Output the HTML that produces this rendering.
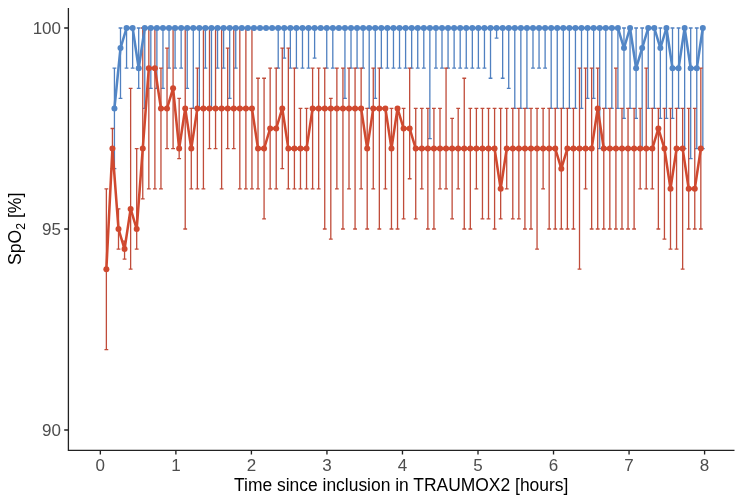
<!DOCTYPE html>
<html lang="en">
<head>
<meta charset="utf-8">
<title>SpO2 over time since inclusion in TRAUMOX2</title>
<style>
html,body{margin:0;padding:0;background:#ffffff;}
body{width:744px;height:503px;overflow:hidden;position:relative;font-family:"Liberation Sans",sans-serif;}
</style>
</head>
<body>
<svg width="744" height="503" viewBox="0 0 744 503" style="position:absolute;left:0;top:0;will-change:transform">
<rect width="744" height="503" fill="#ffffff"/>
<path d="M114.43 68.20V168.70M112.53 68.20h3.80M112.53 168.70h3.80M120.50 28.00V98.35M118.60 28.00h3.80M118.60 98.35h3.80M126.56 28.00V68.20M124.66 28.00h3.80M124.66 68.20h3.80M132.63 28.00V68.20M130.73 28.00h3.80M130.73 68.20h3.80M138.70 28.00V88.30M136.80 28.00h3.80M136.80 88.30h3.80M144.76 28.00V108.40M142.86 28.00h3.80M142.86 108.40h3.80M150.83 28.00V88.30M148.93 28.00h3.80M148.93 88.30h3.80M156.89 28.00V88.30M154.99 28.00h3.80M154.99 88.30h3.80M162.96 28.00V88.30M161.06 28.00h3.80M161.06 88.30h3.80M169.03 28.00V68.20M167.13 28.00h3.80M167.13 68.20h3.80M175.09 28.00V68.20M173.19 28.00h3.80M173.19 68.20h3.80M181.16 28.00V68.20M179.26 28.00h3.80M179.26 68.20h3.80M187.22 28.00V88.30M185.32 28.00h3.80M185.32 88.30h3.80M193.29 28.00V108.40M191.39 28.00h3.80M191.39 108.40h3.80M199.36 28.00V108.40M197.46 28.00h3.80M197.46 108.40h3.80M205.42 28.00V68.20M203.52 28.00h3.80M203.52 68.20h3.80M211.49 28.00V108.40M209.59 28.00h3.80M209.59 108.40h3.80M217.55 28.00V68.20M215.65 28.00h3.80M215.65 68.20h3.80M223.62 28.00V68.20M221.72 28.00h3.80M221.72 68.20h3.80M229.69 28.00V98.35M227.79 28.00h3.80M227.79 98.35h3.80M235.75 28.00V68.20M233.85 28.00h3.80M233.85 68.20h3.80M278.21 28.00V68.20M276.31 28.00h3.80M276.31 68.20h3.80M284.28 28.00V58.15M282.38 28.00h3.80M282.38 58.15h3.80M290.35 28.00V68.20M288.45 28.00h3.80M288.45 68.20h3.80M296.41 28.00V68.20M294.51 28.00h3.80M294.51 68.20h3.80M302.48 28.00V68.20M300.58 28.00h3.80M300.58 68.20h3.80M308.54 28.00V68.20M306.64 28.00h3.80M306.64 68.20h3.80M314.61 28.00V58.15M312.71 28.00h3.80M312.71 58.15h3.80M326.74 28.00V68.20M324.84 28.00h3.80M324.84 68.20h3.80M332.81 28.00V68.20M330.91 28.00h3.80M330.91 68.20h3.80M344.94 28.00V98.35M343.04 28.00h3.80M343.04 98.35h3.80M351.01 28.00V68.20M349.11 28.00h3.80M349.11 68.20h3.80M357.07 28.00V68.20M355.17 28.00h3.80M355.17 68.20h3.80M363.14 28.00V68.20M361.24 28.00h3.80M361.24 68.20h3.80M369.20 28.00V108.40M367.30 28.00h3.80M367.30 108.40h3.80M375.27 28.00V98.35M373.37 28.00h3.80M373.37 98.35h3.80M381.34 28.00V68.20M379.44 28.00h3.80M379.44 68.20h3.80M387.40 28.00V68.20M385.50 28.00h3.80M385.50 68.20h3.80M393.47 28.00V68.20M391.57 28.00h3.80M391.57 68.20h3.80M399.53 28.00V68.20M397.63 28.00h3.80M397.63 68.20h3.80M405.60 28.00V68.20M403.70 28.00h3.80M403.70 68.20h3.80M411.67 28.00V68.20M409.77 28.00h3.80M409.77 68.20h3.80M417.73 28.00V68.20M415.83 28.00h3.80M415.83 68.20h3.80M423.80 28.00V68.20M421.90 28.00h3.80M421.90 68.20h3.80M429.86 28.00V138.55M427.96 28.00h3.80M427.96 138.55h3.80M435.93 28.00V68.20M434.03 28.00h3.80M434.03 68.20h3.80M442.00 28.00V68.20M440.10 28.00h3.80M440.10 68.20h3.80M448.06 28.00V68.20M446.16 28.00h3.80M446.16 68.20h3.80M454.13 28.00V68.20M452.23 28.00h3.80M452.23 68.20h3.80M460.19 28.00V68.20M458.29 28.00h3.80M458.29 68.20h3.80M466.26 28.00V68.20M464.36 28.00h3.80M464.36 68.20h3.80M472.33 28.00V68.20M470.43 28.00h3.80M470.43 68.20h3.80M478.39 28.00V68.20M476.49 28.00h3.80M476.49 68.20h3.80M484.46 28.00V68.20M482.56 28.00h3.80M482.56 68.20h3.80M490.52 28.00V78.25M488.62 28.00h3.80M488.62 78.25h3.80M496.59 28.00V38.05M494.69 28.00h3.80M494.69 38.05h3.80M502.66 28.00V78.25M500.76 28.00h3.80M500.76 78.25h3.80M508.72 28.00V88.30M506.82 28.00h3.80M506.82 88.30h3.80M514.79 28.00V108.40M512.89 28.00h3.80M512.89 108.40h3.80M520.85 28.00V108.40M518.95 28.00h3.80M518.95 108.40h3.80M526.92 28.00V108.40M525.02 28.00h3.80M525.02 108.40h3.80M532.99 28.00V68.20M531.09 28.00h3.80M531.09 68.20h3.80M539.05 28.00V68.20M537.15 28.00h3.80M537.15 68.20h3.80M545.12 28.00V68.20M543.22 28.00h3.80M543.22 68.20h3.80M551.18 28.00V108.40M549.28 28.00h3.80M549.28 108.40h3.80M557.25 28.00V108.40M555.35 28.00h3.80M555.35 108.40h3.80M563.32 28.00V108.40M561.42 28.00h3.80M561.42 108.40h3.80M569.38 28.00V108.40M567.48 28.00h3.80M567.48 108.40h3.80M575.45 28.00V108.40M573.55 28.00h3.80M573.55 108.40h3.80M581.51 28.00V108.40M579.61 28.00h3.80M579.61 108.40h3.80M587.58 28.00V98.35M585.68 28.00h3.80M585.68 98.35h3.80M593.65 28.00V98.35M591.75 28.00h3.80M591.75 98.35h3.80M599.71 28.00V148.60M597.81 28.00h3.80M597.81 148.60h3.80M605.78 28.00V108.40M603.88 28.00h3.80M603.88 108.40h3.80M611.84 28.00V108.40M609.94 28.00h3.80M609.94 108.40h3.80M617.91 28.00V108.40M616.01 28.00h3.80M616.01 108.40h3.80M623.98 28.00V118.45M622.08 28.00h3.80M622.08 118.45h3.80M630.04 28.00V108.40M628.14 28.00h3.80M628.14 108.40h3.80M636.11 28.00V118.45M634.21 28.00h3.80M634.21 118.45h3.80M642.17 28.00V148.60M640.27 28.00h3.80M640.27 148.60h3.80M648.24 28.00V108.40M646.34 28.00h3.80M646.34 108.40h3.80M654.31 28.00V108.40M652.41 28.00h3.80M652.41 108.40h3.80M660.37 28.00V118.45M658.47 28.00h3.80M658.47 118.45h3.80M666.44 28.00V118.45M664.54 28.00h3.80M664.54 118.45h3.80M672.50 28.00V118.45M670.60 28.00h3.80M670.60 118.45h3.80M678.57 28.00V108.40M676.67 28.00h3.80M676.67 108.40h3.80M684.64 28.00V148.60M682.74 28.00h3.80M682.74 148.60h3.80M690.70 28.00V158.65M688.80 28.00h3.80M688.80 158.65h3.80M696.77 28.00V148.60M694.87 28.00h3.80M694.87 148.60h3.80M702.83 28.00V148.60M700.93 28.00h3.80M700.93 148.60h3.80" fill="none" stroke="#5080c0" stroke-width="1.3"/>
<path d="M106.37 188.80V349.60M104.47 188.80h3.80M104.47 349.60h3.80M112.43 128.50V168.70M110.53 128.50h3.80M110.53 168.70h3.80M118.50 208.90V249.10M116.60 208.90h3.80M116.60 249.10h3.80M124.56 241.06V259.15M122.66 241.06h3.80M122.66 259.15h3.80M130.63 88.30V269.20M128.73 88.30h3.80M128.73 269.20h3.80M136.70 148.60V249.10M134.80 148.60h3.80M134.80 249.10h3.80M142.76 28.00V198.85M140.86 28.00h3.80M140.86 198.85h3.80M148.83 28.00V188.80M146.93 28.00h3.80M146.93 188.80h3.80M154.89 28.00V188.80M152.99 28.00h3.80M152.99 188.80h3.80M160.96 68.20V188.80M159.06 68.20h3.80M159.06 188.80h3.80M167.03 48.10V148.60M165.13 48.10h3.80M165.13 148.60h3.80M173.09 28.00V148.60M171.19 28.00h3.80M171.19 148.60h3.80M179.16 98.35V158.65M177.26 98.35h3.80M177.26 158.65h3.80M185.22 28.00V229.00M183.32 28.00h3.80M183.32 229.00h3.80M191.29 108.40V188.80M189.39 108.40h3.80M189.39 188.80h3.80M197.36 68.20V188.80M195.46 68.20h3.80M195.46 188.80h3.80M203.42 28.00V188.80M201.52 28.00h3.80M201.52 188.80h3.80M209.49 28.00V148.60M207.59 28.00h3.80M207.59 148.60h3.80M215.55 28.00V148.60M213.65 28.00h3.80M213.65 148.60h3.80M221.62 28.00V188.80M219.72 28.00h3.80M219.72 188.80h3.80M227.69 48.10V148.60M225.79 48.10h3.80M225.79 148.60h3.80M233.75 28.00V148.60M231.85 28.00h3.80M231.85 148.60h3.80M239.82 28.00V188.80M237.92 28.00h3.80M237.92 188.80h3.80M245.88 28.00V188.80M243.98 28.00h3.80M243.98 188.80h3.80M251.95 28.00V188.80M250.05 28.00h3.80M250.05 188.80h3.80M258.02 78.25V188.80M256.12 78.25h3.80M256.12 188.80h3.80M264.08 78.25V218.95M262.18 78.25h3.80M262.18 218.95h3.80M270.15 68.20V188.80M268.25 68.20h3.80M268.25 188.80h3.80M276.21 68.20V188.80M274.31 68.20h3.80M274.31 188.80h3.80M282.28 48.10V168.70M280.38 48.10h3.80M280.38 168.70h3.80M288.35 48.10V188.80M286.45 48.10h3.80M286.45 188.80h3.80M294.41 68.20V188.80M292.51 68.20h3.80M292.51 188.80h3.80M300.48 108.40V188.80M298.58 108.40h3.80M298.58 188.80h3.80M306.54 108.40V188.80M304.64 108.40h3.80M304.64 188.80h3.80M312.61 68.20V188.80M310.71 68.20h3.80M310.71 188.80h3.80M318.68 68.20V188.80M316.78 68.20h3.80M316.78 188.80h3.80M324.74 68.20V229.00M322.84 68.20h3.80M322.84 229.00h3.80M330.81 98.35V239.05M328.91 98.35h3.80M328.91 239.05h3.80M336.87 68.20V188.80M334.97 68.20h3.80M334.97 188.80h3.80M342.94 68.20V229.00M341.04 68.20h3.80M341.04 229.00h3.80M349.01 68.20V188.80M347.11 68.20h3.80M347.11 188.80h3.80M355.07 68.20V229.00M353.17 68.20h3.80M353.17 229.00h3.80M361.14 68.20V188.80M359.24 68.20h3.80M359.24 188.80h3.80M367.20 108.40V229.00M365.30 108.40h3.80M365.30 229.00h3.80M373.27 68.20V188.80M371.37 68.20h3.80M371.37 188.80h3.80M379.34 68.20V229.00M377.44 68.20h3.80M377.44 229.00h3.80M385.40 108.40V188.80M383.50 108.40h3.80M383.50 188.80h3.80M391.47 108.40V229.00M389.57 108.40h3.80M389.57 229.00h3.80M397.53 108.40V229.00M395.63 108.40h3.80M395.63 229.00h3.80M403.60 108.40V218.95M401.70 108.40h3.80M401.70 218.95h3.80M409.67 68.20V178.75M407.77 68.20h3.80M407.77 178.75h3.80M415.73 108.40V218.95M413.83 108.40h3.80M413.83 218.95h3.80M421.80 108.40V188.80M419.90 108.40h3.80M419.90 188.80h3.80M427.86 108.40V229.00M425.96 108.40h3.80M425.96 229.00h3.80M433.93 108.40V229.00M432.03 108.40h3.80M432.03 229.00h3.80M440.00 108.40V188.80M438.10 108.40h3.80M438.10 188.80h3.80M446.06 68.20V188.80M444.16 68.20h3.80M444.16 188.80h3.80M452.13 118.45V218.95M450.23 118.45h3.80M450.23 218.95h3.80M458.19 108.40V188.80M456.29 108.40h3.80M456.29 188.80h3.80M464.26 78.25V229.00M462.36 78.25h3.80M462.36 229.00h3.80M470.33 108.40V229.00M468.43 108.40h3.80M468.43 229.00h3.80M476.39 108.40V188.80M474.49 108.40h3.80M474.49 188.80h3.80M482.46 108.40V218.95M480.56 108.40h3.80M480.56 218.95h3.80M488.52 108.40V218.95M486.62 108.40h3.80M486.62 218.95h3.80M494.59 108.40V229.00M492.69 108.40h3.80M492.69 229.00h3.80M500.66 108.40V218.95M498.76 108.40h3.80M498.76 218.95h3.80M506.72 108.40V188.80M504.82 108.40h3.80M504.82 188.80h3.80M512.79 108.40V218.95M510.89 108.40h3.80M510.89 218.95h3.80M518.85 108.40V218.95M516.95 108.40h3.80M516.95 218.95h3.80M524.92 108.40V229.00M523.02 108.40h3.80M523.02 229.00h3.80M530.99 108.40V229.00M529.09 108.40h3.80M529.09 229.00h3.80M537.05 108.40V249.10M535.15 108.40h3.80M535.15 249.10h3.80M543.12 108.40V188.80M541.22 108.40h3.80M541.22 188.80h3.80M549.18 108.40V229.00M547.28 108.40h3.80M547.28 229.00h3.80M555.25 108.40V229.00M553.35 108.40h3.80M553.35 229.00h3.80M561.32 108.40V229.00M559.42 108.40h3.80M559.42 229.00h3.80M567.38 108.40V229.00M565.48 108.40h3.80M565.48 229.00h3.80M573.45 108.40V229.00M571.55 108.40h3.80M571.55 229.00h3.80M579.51 68.20V269.20M577.61 68.20h3.80M577.61 269.20h3.80M585.58 68.20V188.80M583.68 68.20h3.80M583.68 188.80h3.80M591.65 68.20V229.00M589.75 68.20h3.80M589.75 229.00h3.80M597.71 68.20V229.00M595.81 68.20h3.80M595.81 229.00h3.80M603.78 108.40V229.00M601.88 108.40h3.80M601.88 229.00h3.80M609.84 108.40V229.00M607.94 108.40h3.80M607.94 229.00h3.80M615.91 68.20V229.00M614.01 68.20h3.80M614.01 229.00h3.80M621.98 108.40V229.00M620.08 108.40h3.80M620.08 229.00h3.80M628.04 108.40V229.00M626.14 108.40h3.80M626.14 229.00h3.80M634.11 108.40V229.00M632.21 108.40h3.80M632.21 229.00h3.80M640.17 108.40V188.80M638.27 108.40h3.80M638.27 188.80h3.80M646.24 68.20V188.80M644.34 68.20h3.80M644.34 188.80h3.80M652.31 108.40V188.80M650.41 108.40h3.80M650.41 188.80h3.80M658.37 108.40V229.00M656.47 108.40h3.80M656.47 229.00h3.80M664.44 108.40V239.05M662.54 108.40h3.80M662.54 239.05h3.80M670.50 108.40V249.10M668.60 108.40h3.80M668.60 249.10h3.80M676.57 108.40V249.10M674.67 108.40h3.80M674.67 249.10h3.80M682.64 108.40V269.20M680.74 108.40h3.80M680.74 269.20h3.80M688.70 108.40V229.00M686.80 108.40h3.80M686.80 229.00h3.80M694.77 108.40V229.00M692.87 108.40h3.80M692.87 229.00h3.80M700.83 68.20V229.00M698.93 68.20h3.80M698.93 229.00h3.80" fill="none" stroke="#c04c3a" stroke-width="1.3"/>
<polyline points="114.43,108.40 120.50,48.10 126.56,28.00 132.63,28.00 138.70,68.20 144.76,28.00 150.83,28.00 156.89,28.00 162.96,28.00 169.03,28.00 175.09,28.00 181.16,28.00 187.22,28.00 193.29,28.00 199.36,28.00 205.42,28.00 211.49,28.00 217.55,28.00 223.62,28.00 229.69,28.00 235.75,28.00 241.82,28.00 247.88,28.00 253.95,28.00 260.02,28.00 266.08,28.00 272.15,28.00 278.21,28.00 284.28,28.00 290.35,28.00 296.41,28.00 302.48,28.00 308.54,28.00 314.61,28.00 320.68,28.00 326.74,28.00 332.81,28.00 338.87,28.00 344.94,28.00 351.01,28.00 357.07,28.00 363.14,28.00 369.20,28.00 375.27,28.00 381.34,28.00 387.40,28.00 393.47,28.00 399.53,28.00 405.60,28.00 411.67,28.00 417.73,28.00 423.80,28.00 429.86,28.00 435.93,28.00 442.00,28.00 448.06,28.00 454.13,28.00 460.19,28.00 466.26,28.00 472.33,28.00 478.39,28.00 484.46,28.00 490.52,28.00 496.59,28.00 502.66,28.00 508.72,28.00 514.79,28.00 520.85,28.00 526.92,28.00 532.99,28.00 539.05,28.00 545.12,28.00 551.18,28.00 557.25,28.00 563.32,28.00 569.38,28.00 575.45,28.00 581.51,28.00 587.58,28.00 593.65,28.00 599.71,28.00 605.78,28.00 611.84,28.00 617.91,28.00 623.98,48.10 630.04,28.00 636.11,68.20 642.17,48.10 648.24,28.00 654.31,28.00 660.37,48.10 666.44,28.00 672.50,68.20 678.57,68.20 684.64,28.00 690.70,68.20 696.77,68.20 702.83,28.00" fill="none" stroke="#5286c6" stroke-width="2.55" stroke-linejoin="round" stroke-linecap="round"/>
<polyline points="106.37,269.20 112.43,148.60 118.50,229.00 124.56,249.10 130.63,208.90 136.70,229.00 142.76,148.60 148.83,68.20 154.89,68.20 160.96,108.40 167.03,108.40 173.09,88.30 179.16,148.60 185.22,108.40 191.29,148.60 197.36,108.40 203.42,108.40 209.49,108.40 215.55,108.40 221.62,108.40 227.69,108.40 233.75,108.40 239.82,108.40 245.88,108.40 251.95,108.40 258.02,148.60 264.08,148.60 270.15,128.50 276.21,128.50 282.28,108.40 288.35,148.60 294.41,148.60 300.48,148.60 306.54,148.60 312.61,108.40 318.68,108.40 324.74,108.40 330.81,108.40 336.87,108.40 342.94,108.40 349.01,108.40 355.07,108.40 361.14,108.40 367.20,148.60 373.27,108.40 379.34,108.40 385.40,108.40 391.47,148.60 397.53,108.40 403.60,128.50 409.67,128.50 415.73,148.60 421.80,148.60 427.86,148.60 433.93,148.60 440.00,148.60 446.06,148.60 452.13,148.60 458.19,148.60 464.26,148.60 470.33,148.60 476.39,148.60 482.46,148.60 488.52,148.60 494.59,148.60 500.66,188.80 506.72,148.60 512.79,148.60 518.85,148.60 524.92,148.60 530.99,148.60 537.05,148.60 543.12,148.60 549.18,148.60 555.25,148.60 561.32,168.70 567.38,148.60 573.45,148.60 579.51,148.60 585.58,148.60 591.65,148.60 597.71,108.40 603.78,148.60 609.84,148.60 615.91,148.60 621.98,148.60 628.04,148.60 634.11,148.60 640.17,148.60 646.24,148.60 652.31,148.60 658.37,128.50 664.44,148.60 670.50,188.80 676.57,148.60 682.64,148.60 688.70,188.80 694.77,188.80 700.83,148.60" fill="none" stroke="#d0492f" stroke-width="2.55" stroke-linejoin="round" stroke-linecap="round"/>
<circle cx="114.43" cy="108.40" r="3.0" fill="#5286c6"/><circle cx="120.50" cy="48.10" r="3.0" fill="#5286c6"/><circle cx="126.56" cy="28.00" r="3.0" fill="#5286c6"/><circle cx="132.63" cy="28.00" r="3.0" fill="#5286c6"/><circle cx="138.70" cy="68.20" r="3.0" fill="#5286c6"/><circle cx="144.76" cy="28.00" r="3.0" fill="#5286c6"/><circle cx="150.83" cy="28.00" r="3.0" fill="#5286c6"/><circle cx="156.89" cy="28.00" r="3.0" fill="#5286c6"/><circle cx="162.96" cy="28.00" r="3.0" fill="#5286c6"/><circle cx="169.03" cy="28.00" r="3.0" fill="#5286c6"/><circle cx="175.09" cy="28.00" r="3.0" fill="#5286c6"/><circle cx="181.16" cy="28.00" r="3.0" fill="#5286c6"/><circle cx="187.22" cy="28.00" r="3.0" fill="#5286c6"/><circle cx="193.29" cy="28.00" r="3.0" fill="#5286c6"/><circle cx="199.36" cy="28.00" r="3.0" fill="#5286c6"/><circle cx="205.42" cy="28.00" r="3.0" fill="#5286c6"/><circle cx="211.49" cy="28.00" r="3.0" fill="#5286c6"/><circle cx="217.55" cy="28.00" r="3.0" fill="#5286c6"/><circle cx="223.62" cy="28.00" r="3.0" fill="#5286c6"/><circle cx="229.69" cy="28.00" r="3.0" fill="#5286c6"/><circle cx="235.75" cy="28.00" r="3.0" fill="#5286c6"/><circle cx="241.82" cy="28.00" r="3.0" fill="#5286c6"/><circle cx="247.88" cy="28.00" r="3.0" fill="#5286c6"/><circle cx="253.95" cy="28.00" r="3.0" fill="#5286c6"/><circle cx="260.02" cy="28.00" r="3.0" fill="#5286c6"/><circle cx="266.08" cy="28.00" r="3.0" fill="#5286c6"/><circle cx="272.15" cy="28.00" r="3.0" fill="#5286c6"/><circle cx="278.21" cy="28.00" r="3.0" fill="#5286c6"/><circle cx="284.28" cy="28.00" r="3.0" fill="#5286c6"/><circle cx="290.35" cy="28.00" r="3.0" fill="#5286c6"/><circle cx="296.41" cy="28.00" r="3.0" fill="#5286c6"/><circle cx="302.48" cy="28.00" r="3.0" fill="#5286c6"/><circle cx="308.54" cy="28.00" r="3.0" fill="#5286c6"/><circle cx="314.61" cy="28.00" r="3.0" fill="#5286c6"/><circle cx="320.68" cy="28.00" r="3.0" fill="#5286c6"/><circle cx="326.74" cy="28.00" r="3.0" fill="#5286c6"/><circle cx="332.81" cy="28.00" r="3.0" fill="#5286c6"/><circle cx="338.87" cy="28.00" r="3.0" fill="#5286c6"/><circle cx="344.94" cy="28.00" r="3.0" fill="#5286c6"/><circle cx="351.01" cy="28.00" r="3.0" fill="#5286c6"/><circle cx="357.07" cy="28.00" r="3.0" fill="#5286c6"/><circle cx="363.14" cy="28.00" r="3.0" fill="#5286c6"/><circle cx="369.20" cy="28.00" r="3.0" fill="#5286c6"/><circle cx="375.27" cy="28.00" r="3.0" fill="#5286c6"/><circle cx="381.34" cy="28.00" r="3.0" fill="#5286c6"/><circle cx="387.40" cy="28.00" r="3.0" fill="#5286c6"/><circle cx="393.47" cy="28.00" r="3.0" fill="#5286c6"/><circle cx="399.53" cy="28.00" r="3.0" fill="#5286c6"/><circle cx="405.60" cy="28.00" r="3.0" fill="#5286c6"/><circle cx="411.67" cy="28.00" r="3.0" fill="#5286c6"/><circle cx="417.73" cy="28.00" r="3.0" fill="#5286c6"/><circle cx="423.80" cy="28.00" r="3.0" fill="#5286c6"/><circle cx="429.86" cy="28.00" r="3.0" fill="#5286c6"/><circle cx="435.93" cy="28.00" r="3.0" fill="#5286c6"/><circle cx="442.00" cy="28.00" r="3.0" fill="#5286c6"/><circle cx="448.06" cy="28.00" r="3.0" fill="#5286c6"/><circle cx="454.13" cy="28.00" r="3.0" fill="#5286c6"/><circle cx="460.19" cy="28.00" r="3.0" fill="#5286c6"/><circle cx="466.26" cy="28.00" r="3.0" fill="#5286c6"/><circle cx="472.33" cy="28.00" r="3.0" fill="#5286c6"/><circle cx="478.39" cy="28.00" r="3.0" fill="#5286c6"/><circle cx="484.46" cy="28.00" r="3.0" fill="#5286c6"/><circle cx="490.52" cy="28.00" r="3.0" fill="#5286c6"/><circle cx="496.59" cy="28.00" r="3.0" fill="#5286c6"/><circle cx="502.66" cy="28.00" r="3.0" fill="#5286c6"/><circle cx="508.72" cy="28.00" r="3.0" fill="#5286c6"/><circle cx="514.79" cy="28.00" r="3.0" fill="#5286c6"/><circle cx="520.85" cy="28.00" r="3.0" fill="#5286c6"/><circle cx="526.92" cy="28.00" r="3.0" fill="#5286c6"/><circle cx="532.99" cy="28.00" r="3.0" fill="#5286c6"/><circle cx="539.05" cy="28.00" r="3.0" fill="#5286c6"/><circle cx="545.12" cy="28.00" r="3.0" fill="#5286c6"/><circle cx="551.18" cy="28.00" r="3.0" fill="#5286c6"/><circle cx="557.25" cy="28.00" r="3.0" fill="#5286c6"/><circle cx="563.32" cy="28.00" r="3.0" fill="#5286c6"/><circle cx="569.38" cy="28.00" r="3.0" fill="#5286c6"/><circle cx="575.45" cy="28.00" r="3.0" fill="#5286c6"/><circle cx="581.51" cy="28.00" r="3.0" fill="#5286c6"/><circle cx="587.58" cy="28.00" r="3.0" fill="#5286c6"/><circle cx="593.65" cy="28.00" r="3.0" fill="#5286c6"/><circle cx="599.71" cy="28.00" r="3.0" fill="#5286c6"/><circle cx="605.78" cy="28.00" r="3.0" fill="#5286c6"/><circle cx="611.84" cy="28.00" r="3.0" fill="#5286c6"/><circle cx="617.91" cy="28.00" r="3.0" fill="#5286c6"/><circle cx="623.98" cy="48.10" r="3.0" fill="#5286c6"/><circle cx="630.04" cy="28.00" r="3.0" fill="#5286c6"/><circle cx="636.11" cy="68.20" r="3.0" fill="#5286c6"/><circle cx="642.17" cy="48.10" r="3.0" fill="#5286c6"/><circle cx="648.24" cy="28.00" r="3.0" fill="#5286c6"/><circle cx="654.31" cy="28.00" r="3.0" fill="#5286c6"/><circle cx="660.37" cy="48.10" r="3.0" fill="#5286c6"/><circle cx="666.44" cy="28.00" r="3.0" fill="#5286c6"/><circle cx="672.50" cy="68.20" r="3.0" fill="#5286c6"/><circle cx="678.57" cy="68.20" r="3.0" fill="#5286c6"/><circle cx="684.64" cy="28.00" r="3.0" fill="#5286c6"/><circle cx="690.70" cy="68.20" r="3.0" fill="#5286c6"/><circle cx="696.77" cy="68.20" r="3.0" fill="#5286c6"/><circle cx="702.83" cy="28.00" r="3.0" fill="#5286c6"/>
<circle cx="106.37" cy="269.20" r="3.0" fill="#d0492f"/><circle cx="112.43" cy="148.60" r="3.0" fill="#d0492f"/><circle cx="118.50" cy="229.00" r="3.0" fill="#d0492f"/><circle cx="124.56" cy="249.10" r="3.0" fill="#d0492f"/><circle cx="130.63" cy="208.90" r="3.0" fill="#d0492f"/><circle cx="136.70" cy="229.00" r="3.0" fill="#d0492f"/><circle cx="142.76" cy="148.60" r="3.0" fill="#d0492f"/><circle cx="148.83" cy="68.20" r="3.0" fill="#d0492f"/><circle cx="154.89" cy="68.20" r="3.0" fill="#d0492f"/><circle cx="160.96" cy="108.40" r="3.0" fill="#d0492f"/><circle cx="167.03" cy="108.40" r="3.0" fill="#d0492f"/><circle cx="173.09" cy="88.30" r="3.0" fill="#d0492f"/><circle cx="179.16" cy="148.60" r="3.0" fill="#d0492f"/><circle cx="185.22" cy="108.40" r="3.0" fill="#d0492f"/><circle cx="191.29" cy="148.60" r="3.0" fill="#d0492f"/><circle cx="197.36" cy="108.40" r="3.0" fill="#d0492f"/><circle cx="203.42" cy="108.40" r="3.0" fill="#d0492f"/><circle cx="209.49" cy="108.40" r="3.0" fill="#d0492f"/><circle cx="215.55" cy="108.40" r="3.0" fill="#d0492f"/><circle cx="221.62" cy="108.40" r="3.0" fill="#d0492f"/><circle cx="227.69" cy="108.40" r="3.0" fill="#d0492f"/><circle cx="233.75" cy="108.40" r="3.0" fill="#d0492f"/><circle cx="239.82" cy="108.40" r="3.0" fill="#d0492f"/><circle cx="245.88" cy="108.40" r="3.0" fill="#d0492f"/><circle cx="251.95" cy="108.40" r="3.0" fill="#d0492f"/><circle cx="258.02" cy="148.60" r="3.0" fill="#d0492f"/><circle cx="264.08" cy="148.60" r="3.0" fill="#d0492f"/><circle cx="270.15" cy="128.50" r="3.0" fill="#d0492f"/><circle cx="276.21" cy="128.50" r="3.0" fill="#d0492f"/><circle cx="282.28" cy="108.40" r="3.0" fill="#d0492f"/><circle cx="288.35" cy="148.60" r="3.0" fill="#d0492f"/><circle cx="294.41" cy="148.60" r="3.0" fill="#d0492f"/><circle cx="300.48" cy="148.60" r="3.0" fill="#d0492f"/><circle cx="306.54" cy="148.60" r="3.0" fill="#d0492f"/><circle cx="312.61" cy="108.40" r="3.0" fill="#d0492f"/><circle cx="318.68" cy="108.40" r="3.0" fill="#d0492f"/><circle cx="324.74" cy="108.40" r="3.0" fill="#d0492f"/><circle cx="330.81" cy="108.40" r="3.0" fill="#d0492f"/><circle cx="336.87" cy="108.40" r="3.0" fill="#d0492f"/><circle cx="342.94" cy="108.40" r="3.0" fill="#d0492f"/><circle cx="349.01" cy="108.40" r="3.0" fill="#d0492f"/><circle cx="355.07" cy="108.40" r="3.0" fill="#d0492f"/><circle cx="361.14" cy="108.40" r="3.0" fill="#d0492f"/><circle cx="367.20" cy="148.60" r="3.0" fill="#d0492f"/><circle cx="373.27" cy="108.40" r="3.0" fill="#d0492f"/><circle cx="379.34" cy="108.40" r="3.0" fill="#d0492f"/><circle cx="385.40" cy="108.40" r="3.0" fill="#d0492f"/><circle cx="391.47" cy="148.60" r="3.0" fill="#d0492f"/><circle cx="397.53" cy="108.40" r="3.0" fill="#d0492f"/><circle cx="403.60" cy="128.50" r="3.0" fill="#d0492f"/><circle cx="409.67" cy="128.50" r="3.0" fill="#d0492f"/><circle cx="415.73" cy="148.60" r="3.0" fill="#d0492f"/><circle cx="421.80" cy="148.60" r="3.0" fill="#d0492f"/><circle cx="427.86" cy="148.60" r="3.0" fill="#d0492f"/><circle cx="433.93" cy="148.60" r="3.0" fill="#d0492f"/><circle cx="440.00" cy="148.60" r="3.0" fill="#d0492f"/><circle cx="446.06" cy="148.60" r="3.0" fill="#d0492f"/><circle cx="452.13" cy="148.60" r="3.0" fill="#d0492f"/><circle cx="458.19" cy="148.60" r="3.0" fill="#d0492f"/><circle cx="464.26" cy="148.60" r="3.0" fill="#d0492f"/><circle cx="470.33" cy="148.60" r="3.0" fill="#d0492f"/><circle cx="476.39" cy="148.60" r="3.0" fill="#d0492f"/><circle cx="482.46" cy="148.60" r="3.0" fill="#d0492f"/><circle cx="488.52" cy="148.60" r="3.0" fill="#d0492f"/><circle cx="494.59" cy="148.60" r="3.0" fill="#d0492f"/><circle cx="500.66" cy="188.80" r="3.0" fill="#d0492f"/><circle cx="506.72" cy="148.60" r="3.0" fill="#d0492f"/><circle cx="512.79" cy="148.60" r="3.0" fill="#d0492f"/><circle cx="518.85" cy="148.60" r="3.0" fill="#d0492f"/><circle cx="524.92" cy="148.60" r="3.0" fill="#d0492f"/><circle cx="530.99" cy="148.60" r="3.0" fill="#d0492f"/><circle cx="537.05" cy="148.60" r="3.0" fill="#d0492f"/><circle cx="543.12" cy="148.60" r="3.0" fill="#d0492f"/><circle cx="549.18" cy="148.60" r="3.0" fill="#d0492f"/><circle cx="555.25" cy="148.60" r="3.0" fill="#d0492f"/><circle cx="561.32" cy="168.70" r="3.0" fill="#d0492f"/><circle cx="567.38" cy="148.60" r="3.0" fill="#d0492f"/><circle cx="573.45" cy="148.60" r="3.0" fill="#d0492f"/><circle cx="579.51" cy="148.60" r="3.0" fill="#d0492f"/><circle cx="585.58" cy="148.60" r="3.0" fill="#d0492f"/><circle cx="591.65" cy="148.60" r="3.0" fill="#d0492f"/><circle cx="597.71" cy="108.40" r="3.0" fill="#d0492f"/><circle cx="603.78" cy="148.60" r="3.0" fill="#d0492f"/><circle cx="609.84" cy="148.60" r="3.0" fill="#d0492f"/><circle cx="615.91" cy="148.60" r="3.0" fill="#d0492f"/><circle cx="621.98" cy="148.60" r="3.0" fill="#d0492f"/><circle cx="628.04" cy="148.60" r="3.0" fill="#d0492f"/><circle cx="634.11" cy="148.60" r="3.0" fill="#d0492f"/><circle cx="640.17" cy="148.60" r="3.0" fill="#d0492f"/><circle cx="646.24" cy="148.60" r="3.0" fill="#d0492f"/><circle cx="652.31" cy="148.60" r="3.0" fill="#d0492f"/><circle cx="658.37" cy="128.50" r="3.0" fill="#d0492f"/><circle cx="664.44" cy="148.60" r="3.0" fill="#d0492f"/><circle cx="670.50" cy="188.80" r="3.0" fill="#d0492f"/><circle cx="676.57" cy="148.60" r="3.0" fill="#d0492f"/><circle cx="682.64" cy="148.60" r="3.0" fill="#d0492f"/><circle cx="688.70" cy="188.80" r="3.0" fill="#d0492f"/><circle cx="694.77" cy="188.80" r="3.0" fill="#d0492f"/><circle cx="700.83" cy="148.60" r="3.0" fill="#d0492f"/>
<path d="M68.4 8V451.05M67.75 450.4H734.5" fill="none" stroke="#222222" stroke-width="1.3"/>
<path d="M64.2 28.00H68.4M64.2 229.00H68.4M64.2 430.00H68.4M100.35 450.4V454.6M175.88 450.4V454.6M251.41 450.4V454.6M326.94 450.4V454.6M402.47 450.4V454.6M478.00 450.4V454.6M553.53 450.4V454.6M629.06 450.4V454.6M704.59 450.4V454.6" fill="none" stroke="#222222" stroke-width="1.35"/>
<text x="61" y="34.20" text-anchor="end" font-family="Liberation Sans, sans-serif" font-size="17" fill="#4d4d4d">100</text>
<text x="61" y="235.20" text-anchor="end" font-family="Liberation Sans, sans-serif" font-size="17" fill="#4d4d4d">95</text>
<text x="61" y="436.20" text-anchor="end" font-family="Liberation Sans, sans-serif" font-size="17" fill="#4d4d4d">90</text>
<text x="100.35" y="470.6" text-anchor="middle" font-family="Liberation Sans, sans-serif" font-size="17" fill="#4d4d4d">0</text>
<text x="175.88" y="470.6" text-anchor="middle" font-family="Liberation Sans, sans-serif" font-size="17" fill="#4d4d4d">1</text>
<text x="251.41" y="470.6" text-anchor="middle" font-family="Liberation Sans, sans-serif" font-size="17" fill="#4d4d4d">2</text>
<text x="326.94" y="470.6" text-anchor="middle" font-family="Liberation Sans, sans-serif" font-size="17" fill="#4d4d4d">3</text>
<text x="402.47" y="470.6" text-anchor="middle" font-family="Liberation Sans, sans-serif" font-size="17" fill="#4d4d4d">4</text>
<text x="478.00" y="470.6" text-anchor="middle" font-family="Liberation Sans, sans-serif" font-size="17" fill="#4d4d4d">5</text>
<text x="553.53" y="470.6" text-anchor="middle" font-family="Liberation Sans, sans-serif" font-size="17" fill="#4d4d4d">6</text>
<text x="629.06" y="470.6" text-anchor="middle" font-family="Liberation Sans, sans-serif" font-size="17" fill="#4d4d4d">7</text>
<text x="704.59" y="470.6" text-anchor="middle" font-family="Liberation Sans, sans-serif" font-size="17" fill="#4d4d4d">8</text>
<text x="401.2" y="490.8" text-anchor="middle" font-family="Liberation Sans, sans-serif" font-size="17.45" fill="#000000">Time since inclusion in TRAUMOX2 [hours]</text>
<text transform="translate(20.9 228.8) rotate(-90)" text-anchor="middle" font-family="Liberation Sans, sans-serif" font-size="17.6" fill="#000000">SpO<tspan font-size="12.3" dy="3.6">2</tspan><tspan dy="-3.6"> [%]</tspan></text>
</svg>
</body>
</html>
